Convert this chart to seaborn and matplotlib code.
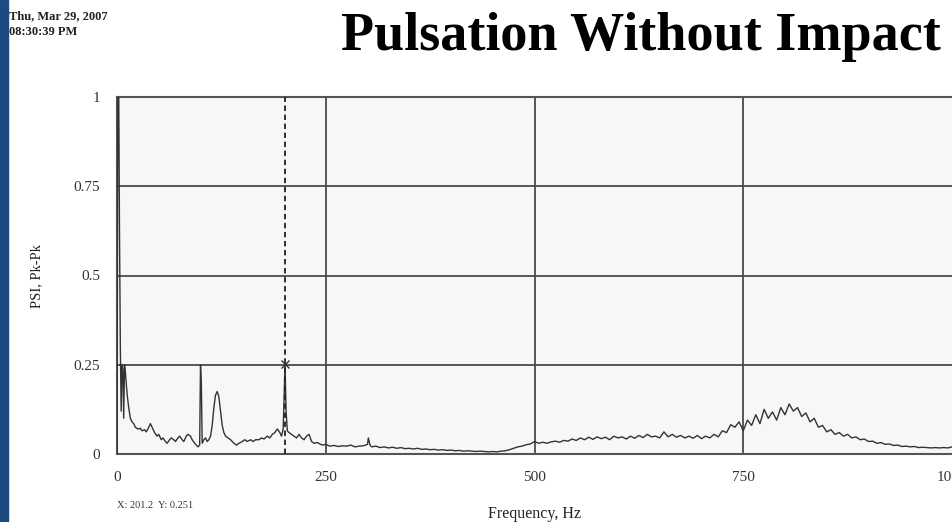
import matplotlib
matplotlib.use("Agg")
import matplotlib.pyplot as plt
import seaborn as sns
import pandas as pd
from matplotlib.patches import Rectangle

# ---- data ----
freq_low = [0, 1, 2, 3, 4, 5, 6, 7, 8, 9, 10, 12, 14, 16, 18, 20, 22, 25, 28, 30, 33, 35, 37, 40, 43, 45,
            48, 50, 53, 55, 58, 60, 63, 65, 68, 70, 73, 75, 78, 80, 83, 85, 88, 90, 93, 95, 97, 99, 100, 101,
            102, 104, 106, 108, 110, 112, 114, 116, 118, 120, 122, 124, 126, 128, 130, 133, 136, 140, 143,
            146, 150, 153, 156, 160, 163, 166, 170, 173, 176, 180, 183, 186, 189, 192, 195, 197, 199, 200,
            201.2, 202.5, 204, 206, 209, 212, 215, 218, 221, 224, 227, 230, 233, 236, 240, 243, 246, 250]
psi_low = [0.0, 1.05, 1.05, 0.62, 0.30, 0.12, 0.25, 0.24, 0.10, 0.25, 0.23, 0.17, 0.13, 0.10, 0.09, 0.085,
           0.075, 0.07, 0.072, 0.065, 0.068, 0.062, 0.07, 0.085, 0.07, 0.06, 0.05, 0.055, 0.04, 0.045, 0.035,
           0.03, 0.04, 0.045, 0.04, 0.035, 0.045, 0.05, 0.04, 0.035, 0.05, 0.055, 0.05, 0.04, 0.03, 0.025,
           0.02, 0.025, 0.25, 0.20, 0.03, 0.04, 0.045, 0.035, 0.04, 0.05, 0.08, 0.13, 0.165, 0.175, 0.16,
           0.12, 0.08, 0.06, 0.05, 0.045, 0.04, 0.03, 0.025, 0.03, 0.035, 0.04, 0.035, 0.04, 0.035, 0.04,
           0.04, 0.045, 0.042, 0.05, 0.045, 0.055, 0.06, 0.07, 0.06, 0.05, 0.07, 0.15, 0.251, 0.12, 0.065,
           0.06, 0.055, 0.05, 0.045, 0.055, 0.045, 0.04, 0.05, 0.055, 0.035, 0.03, 0.032, 0.028, 0.025, 0.027]

freq_high = [255, 260, 265, 270, 275, 280, 285, 290, 295, 300, 301, 303, 305, 310, 315, 320, 325, 330, 335,
             340, 345, 350, 355, 360, 365, 370, 375, 380, 385, 390, 395, 400, 405, 410, 415, 420, 425, 430,
             435, 440, 445, 450, 455, 460, 465, 470, 475, 480, 485, 490, 495, 500, 505, 510, 515, 520, 525,
             530, 535, 540, 545, 550, 555, 560, 565, 570, 575, 580, 585, 590, 595, 600, 605, 610, 615, 620,
             625, 630, 635, 640, 645, 650, 655, 660, 665, 670, 675, 680, 685, 690, 695, 700, 705, 710, 715,
             720, 725, 730, 735, 740, 745, 750, 755, 760, 765, 770, 775, 780, 785, 790, 795, 800, 805, 810,
             815, 820, 825, 830, 835, 840, 845, 850, 855, 860, 865, 870, 875, 880, 885, 890, 895, 900, 905,
             910, 915, 920, 925, 930, 935, 940, 945, 950, 955, 960, 965, 970, 975, 980, 985, 990, 995, 1000]
psi_high = [0.022, 0.024, 0.021, 0.023, 0.022, 0.025, 0.020, 0.022, 0.023, 0.027, 0.045, 0.025, 0.020, 0.022,
            0.018, 0.020, 0.017, 0.019, 0.016, 0.018, 0.015, 0.016, 0.014, 0.016, 0.013, 0.014, 0.012, 0.013,
            0.011, 0.012, 0.010, 0.011, 0.009, 0.010, 0.008, 0.009, 0.008, 0.007, 0.008, 0.007, 0.006, 0.007,
            0.006, 0.008, 0.009, 0.012, 0.016, 0.020, 0.022, 0.026, 0.028, 0.035, 0.030, 0.033, 0.030, 0.034,
            0.036, 0.033, 0.038, 0.036, 0.042, 0.038, 0.045, 0.040, 0.047, 0.041, 0.048, 0.043, 0.047, 0.040,
            0.050, 0.045, 0.048, 0.042, 0.050, 0.044, 0.052, 0.046, 0.055, 0.048, 0.050, 0.045, 0.062, 0.048,
            0.055, 0.047, 0.052, 0.045, 0.050, 0.044, 0.052, 0.043, 0.050, 0.045, 0.055, 0.048, 0.065, 0.060,
            0.082, 0.075, 0.090, 0.065, 0.095, 0.080, 0.110, 0.085, 0.125, 0.100, 0.118, 0.095, 0.130, 0.110,
            0.140, 0.120, 0.130, 0.105, 0.115, 0.090, 0.100, 0.075, 0.080, 0.062, 0.068, 0.055, 0.060, 0.050,
            0.055, 0.045, 0.048, 0.040, 0.042, 0.035, 0.036, 0.030, 0.032, 0.027, 0.028, 0.024, 0.025, 0.021,
            0.022, 0.020, 0.021, 0.018, 0.019, 0.018, 0.017, 0.018, 0.017, 0.018, 0.017, 0.020]

x_ticks = [0, 250, 500, 750, 1000]
x_tick_labels = ["0", "250", "500", "750", "1000"]
y_ticks = [0, 0.25, 0.5, 0.75, 1]
y_tick_labels = ["0", "0.25", "0.5", "0.75", "1"]
cursor_x = 201.2
cursor_y = 0.251

df = pd.DataFrame({"Frequency": freq_low + freq_high, "PSI": psi_low + psi_high})

sns.set_style("white")
plt.rcParams["font.family"] = ["Liberation Serif", "DejaVu Serif"]

fig = plt.figure(figsize=(9.52, 5.22), dpi=100)
fig.patch.set_facecolor("white")
ax = fig.add_axes([117 / 952, 68 / 522, 835 / 952, 357 / 522])
ax.set_facecolor("#f7f7f7")

for v in [250, 500, 750]:
    ax.axvline(v, color="#4a4a4a", lw=1.3, zorder=1)
for h in [0.25, 0.5, 0.75]:
    ax.axhline(h, color="#4a4a4a", lw=1.3, zorder=1)

sns.lineplot(data=df, x="Frequency", y="PSI", ax=ax, color="#333333", lw=1.0, zorder=3, estimator=None)

ax.axvline(cursor_x, color="#222222", lw=1.3, ls=(0, (3, 2)), zorder=4)
ax.plot([cursor_x], [cursor_y], marker="x", color="#333333", ms=6, mew=1, zorder=5)

ax.set_xlim(0, 1000)
ax.set_ylim(0, 1)
ax.set_xticks(x_ticks)
ax.set_xticklabels(x_tick_labels)
ax.set_yticks(y_ticks)
ax.set_yticklabels(y_tick_labels)
ax.tick_params(axis="both", length=0, labelsize=11, colors="#333333")
ax.tick_params(axis="x", pad=12.5)
ax.tick_params(axis="y", pad=12)
for s in ["left", "bottom", "top"]:
    ax.spines[s].set_color("#555555")
    ax.spines[s].set_linewidth(1.5)
ax.spines["right"].set_visible(False)

ax.set_xlabel("Frequency, Hz", fontsize=11.5, color="#222222", labelpad=15.5)
ax.set_ylabel("PSI, Pk-Pk", fontsize=10.5, color="#222222", labelpad=22)

fig.text(117 / 952, 1 - 505 / 522, "X: 201.2  Y: 0.251", fontsize=7.5, color="#333333", va="center", ha="left")

fig.text(641 / 952, 1 - 37 / 522, "Pulsation Without Impact", fontsize=39, fontweight="bold",
         ha="center", va="center", color="black")
fig.text(9 / 952, 1 - 24 / 522, "Thu, Mar 29, 2007\n08:30:39 PM", fontsize=9, fontweight="bold",
         ha="left", va="center", color="#222222", linespacing=1.45)

fig.patches.append(Rectangle((0, 0), 8 / 952, 1, transform=fig.transFigure, color="#1d4a80", zorder=10))

fig.savefig("out.png", dpi=100)
